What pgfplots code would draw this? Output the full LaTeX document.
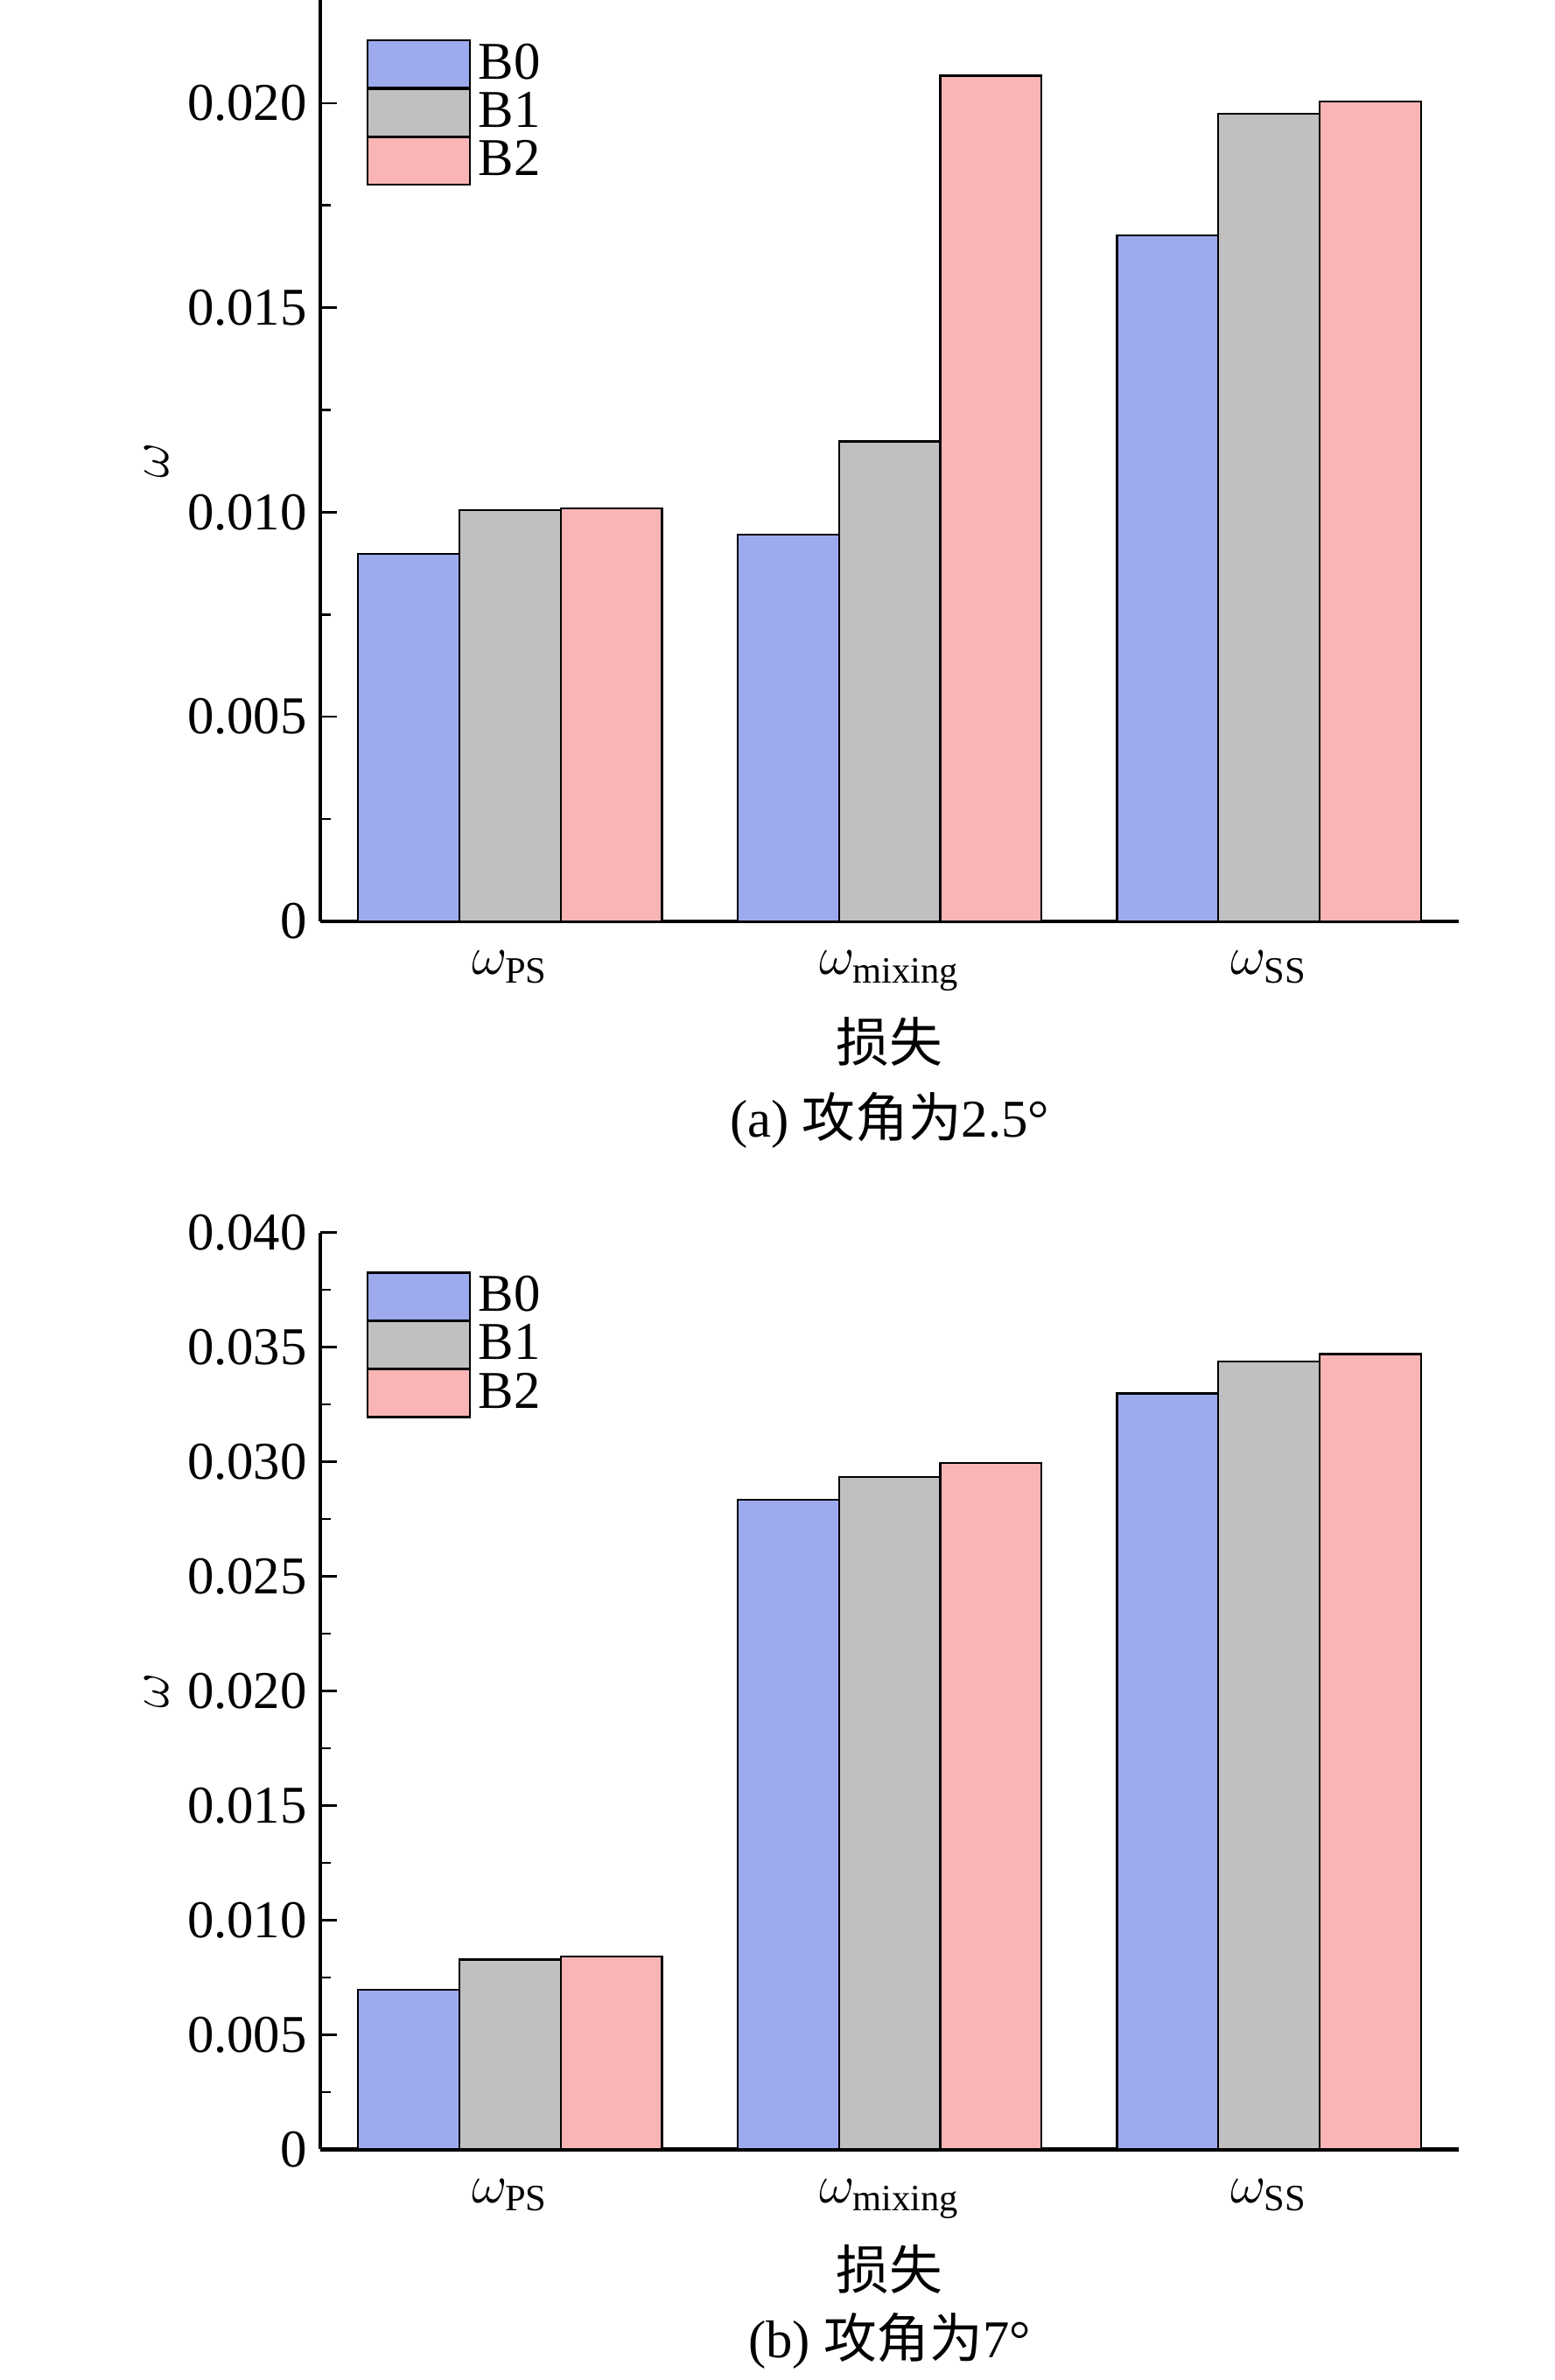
\documentclass[border=0pt]{standalone}
\usepackage{pgfplots}
\pgfplotsset{compat=1.18}
\usepackage{fontspec}
\setmainfont{Liberation Serif}
\newfontfamily\cjk{Noto Sans CJK SC}
\definecolor{cA}{RGB}{157,170,238}
\definecolor{cB}{RGB}{192,192,192}
\definecolor{cC}{RGB}{249,181,182}
\pgfplotsset{
 mystyle/.style={
  scale only axis, width=300pt,
  ybar=0pt, bar width=0.267,
  xmin=-0.5, xmax=2.5, ymin=0,
  xtick={0,1,2}, xtick style={draw=none},
  xticklabels={$\omega_{\mathrm{PS}}$,$\omega_{\mathrm{mixing}}$,$\omega_{\mathrm{SS}}$},
  axis y line*=left, axis x line*=bottom,
  axis line style={line width=1pt,-},
  every axis/.append style={font=\fontsize{14}{16}\selectfont},
  tick label style={font=\fontsize{14}{16}\selectfont},
  label style={font=\fontsize{14}{16}\selectfont},
  /pgf/number format/assume math mode=true,
  yticklabel style={/pgf/number format/fixed,/pgf/number format/fixed zerofill,/pgf/number format/precision=3},
  scaled y ticks=false,
  minor y tick num=1, ytick align=inside, tick style={black,line width=0.6pt},
  ylabel={$\omega$}, ylabel style={yshift=-2pt},
  xlabel={\cjk 损失},
  legend style={draw=none,fill=none,at={(0.03,0.97)},anchor=north west,font=\fontsize{14}{16}\selectfont,row sep=-2pt},
  legend image code/.code={\draw[#1,draw=black] (0cm,-0.22cm) rectangle (0.95cm,0.22cm);},
  every axis plot/.append style={draw=black,line width=0.5pt},
 }}
\begin{document}
\begin{tikzpicture}
\path[use as bounding box] (-84.4pt,242.8pt) rectangle (325.2pt,-384.4pt);
\begin{axis}[mystyle, at={(0,0)}, anchor=south west, height=242.8pt, ymax=0.02252,
  ytick={0,0.005,0.010,0.015,0.020}, yticklabels={0,0.005,0.010,0.015,0.020}]
\addplot[fill=cA] coordinates {(0,0.00898) (1,0.00946) (2,0.01677)};
\addplot[fill=cB] coordinates {(0,0.01006) (1,0.01173) (2,0.01974)};
\addplot[fill=cC] coordinates {(0,0.0101) (1,0.02067) (2,0.02004)};
\legend{B0,B1,B2}
\end{axis}
\node[font=\fontsize{14}{16}\selectfont] at (150pt,-52.4pt) {(a) {\cjk 攻角为}2.5°};
\begin{axis}[mystyle, at={(0,-323.6pt)}, anchor=south west, height=241.6pt, ymax=0.040,
  ytick={0,0.005,0.010,0.015,0.020,0.025,0.030,0.035,0.040},
  yticklabels={0,0.005,0.010,0.015,0.020,0.025,0.030,0.035,0.040}]
\addplot[fill=cA] coordinates {(0,0.00695) (1,0.02834) (2,0.03298)};
\addplot[fill=cB] coordinates {(0,0.00828) (1,0.02934) (2,0.03437)};
\addplot[fill=cC] coordinates {(0,0.00841) (1,0.02993) (2,0.0347)};
\legend{B0,B1,B2}
\end{axis}
\node[font=\fontsize{14}{16}\selectfont] at (150pt,-374pt) {(b) {\cjk 攻角为}7°};
\end{tikzpicture}
\end{document}
